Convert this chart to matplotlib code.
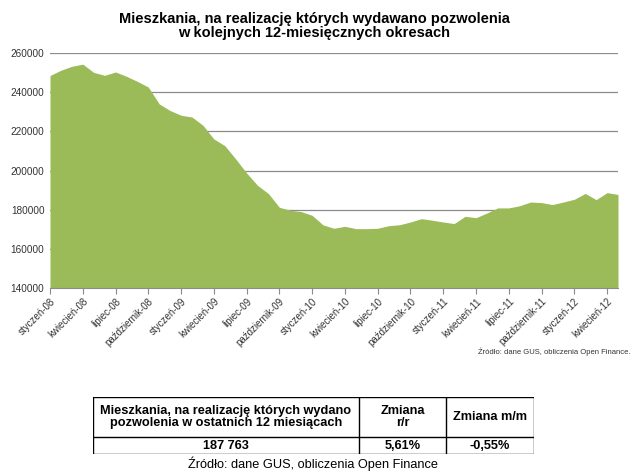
import matplotlib
matplotlib.use('Agg')
import matplotlib.pyplot as plt
import numpy as np

plt.rcParams['font.family'] = ['Liberation Sans', 'DejaVu Sans']

# miesiące: styczeń 2008 - maj 2012
miesiace = ['styczeń', 'luty', 'marzec', 'kwiecień', 'maj', 'czerwiec', 'lipiec',
            'sierpień', 'wrzesień', 'październik', 'listopad', 'grudzień']
etykiety = [f'{m}-{r:02d}' for r in range(8, 13) for m in miesiace][:53]

wartosci = [248500, 251200, 253200, 254300, 250100, 248600, 250300, 248100, 245500, 242600,
            234000, 230600, 228200, 227300, 223100, 216100, 212700, 205900, 198700, 192400,
            188200, 181200, 179700, 179000, 177100, 172200, 170500, 171500, 170300, 170300,
            170500, 171800, 172300, 173700, 175400, 174600, 173700, 172900, 176600, 175900,
            178300, 180900, 180900, 182000, 183900, 183600, 182600, 183900, 185300, 188300,
            185100, 188700, 187763]

naglowki = ['Mieszkania, na realizację których wydano\npozwolenia w ostatnich 12 miesiącach',
            'Zmiana\nr/r', 'Zmiana m/m']
wiersz = ['187 763', '5,61%', '-0,55%']

fig = plt.figure(figsize=(6.4, 4.73), dpi=100)
ax = fig.add_axes([50/640, 1-288/473, 568/640, 235/473])

x = np.arange(len(wartosci))
ax.fill_between(x, wartosci, 140000, color='#9BBB59', lw=0)
ax.set_xlim(0, len(wartosci)-1)
ax.set_ylim(140000, 260000)
ax.set_yticks(range(140000, 260001, 20000))
ax.yaxis.grid(True, color='#8c8c8c', lw=0.9)
ax.set_axisbelow(True)
ax.tick_params(axis='y', length=0, labelsize=7.2, colors='#333333', pad=4)
ax.set_xticks(x[::3])
ax.set_xticklabels(etykiety[::3], rotation=45, ha='right', rotation_mode='anchor',
                   fontsize=7, color='#333333')
ax.tick_params(axis='x', length=4, color='#8c8c8c', pad=2)
for s in ['top', 'right', 'left']:
    ax.spines[s].set_visible(False)
ax.spines['bottom'].set_color('#8c8c8c')

fig.text(314/640, 1-26/473, 'Mieszkania, na realizację których wydawano pozwolenia\nw kolejnych 12-miesięcznych okresach',
         ha='center', va='center', fontsize=10.5, fontweight='bold', linespacing=1.05)
fig.text(630/640, 1-352/473, 'Źródło: dane GUS, obliczenia Open Finance.', ha='right', va='center',
         fontsize=5.5, color='#333333')

# tabela
tab = fig.add_axes([93/640, 1-454/473, 441/640, 57/473])
tab.axis('off')
kolumny = [0, 266/441, 353/441, 1]
wys = [0, 17/57, 1]
tab.set_xlim(0, 1)
tab.set_ylim(0, 1)
for k in kolumny:
    tab.plot([k, k], [0, 1], color='black', lw=1)
for w in wys:
    tab.plot([0, 1], [w, w], color='black', lw=1)
for i in range(3):
    cx = (kolumny[i] + kolumny[i+1]) / 2
    tab.text(cx, (wys[1] + wys[2]) / 2, naglowki[i], ha='center', va='center',
             fontsize=9.2, fontweight='bold', linespacing=1.1)
    tab.text(cx, (wys[0] + wys[1]) / 2, wiersz[i], ha='center', va='center',
             fontsize=9.2, fontweight='bold')

fig.text(313/640, 1-464/473, 'Źródło: dane GUS, obliczenia Open Finance', ha='center', va='center',
         fontsize=9.2)

fig.savefig('out.png', dpi=100)
